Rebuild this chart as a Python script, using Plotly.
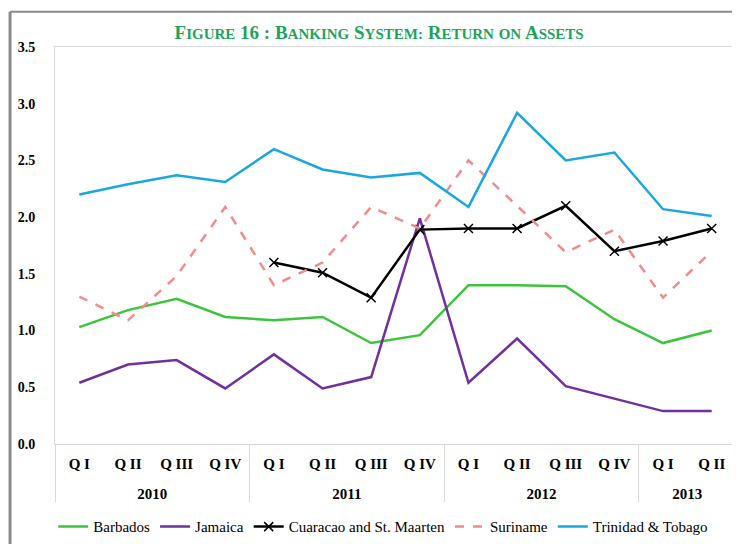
import plotly.graph_objects as go

# Categories
YEARS = ["2010"] * 4 + ["2011"] * 4 + ["2012"] * 4 + ["2013"] * 2
QUARTERS = ["Q I", "Q II", "Q III", "Q IV"] * 3 + ["Q I", "Q II"]

# Return on assets (%)
barbados = [1.03, 1.18, 1.28, 1.12, 1.09, 1.12, 0.89, 0.96, 1.40, 1.40, 1.39, 1.10, 0.89, 1.00]
jamaica = [0.54, 0.70, 0.74, 0.49, 0.79, 0.49, 0.59, 1.99, 0.54, 0.93, 0.51, 0.40, 0.29, 0.29]
curacao = [None, None, None, None, 1.60, 1.51, 1.29, 1.89, 1.90, 1.90, 2.10, 1.70, 1.79, 1.90]
suriname = [1.30, 1.09, 1.48, 2.09, 1.40, 1.60, 2.09, 1.90, 2.50, 2.10, 1.69, 1.89, 1.29, 1.70]
trinidad = [2.20, 2.29, 2.37, 2.31, 2.60, 2.42, 2.35, 2.39, 2.09, 2.92, 2.50, 2.57, 2.07, 2.01]

Y_TICKS = [0.0, 0.5, 1.0, 1.5, 2.0, 2.5, 3.0, 3.5]

SERIF = "Palatino Linotype, Book Antiqua, Liberation Serif, serif"

COLOURS = {
    "barbados": "#3cc43c",
    "jamaica": "#7030a0",
    "curacao": "#000000",
    "suriname": "#f28b8b",
    "trinidad": "#1aa7e0",
}

# a tiny blank second line under each quarter pushes the year row further down
SPACER = "<br><span style='font-size:5px'>\u00a0</span>"
x = [YEARS, [q + SPACER for q in QUARTERS]]

fig = go.Figure()
fig.add_trace(go.Scatter(x=x, y=barbados, mode="lines", name="Barbados",
                         line=dict(color=COLOURS["barbados"], width=2.5)))
fig.add_trace(go.Scatter(x=x, y=jamaica, mode="lines", name="Jamaica",
                         line=dict(color=COLOURS["jamaica"], width=2.5)))
fig.add_trace(go.Scatter(x=x, y=curacao, mode="lines+markers", name="Cuaracao and St. Maarten",
                         line=dict(color=COLOURS["curacao"], width=2.5),
                         marker=dict(symbol="x-thin-open", size=9,
                                     line=dict(color=COLOURS["curacao"], width=1.5))))
fig.add_trace(go.Scatter(x=x, y=suriname, mode="lines", name="Suriname",
                         line=dict(color=COLOURS["suriname"], width=2.5, dash="dash")))
fig.add_trace(go.Scatter(x=x, y=trinidad, mode="lines", name="Trinidad & Tobago",
                         line=dict(color=COLOURS["trinidad"], width=2.5)))


def small_caps(text, small=15):
    out = []
    for word in text.split(" "):
        if word[:1].isalpha() and word[:1].isupper():
            out.append(word[0] + f"<span style='font-size:{small}px'>{word[1:].upper()}</span>")
        elif word.islower():
            out.append(f"<span style='font-size:{small}px'>{word.upper()}</span>")
        else:
            out.append(word)
    return " ".join(out)


title_text = small_caps("Figure 16 : Banking System: Return on Assets")

# page body keeps its default 8px margin, so the figure is 8px smaller than the window
fig.update_layout(
    width=732, height=536,
    paper_bgcolor="white", plot_bgcolor="white",
    margin=dict(l=47, r=4, t=39, b=100, autoexpand=False),
    font=dict(family=SERIF, size=14, color="black"),
    title=dict(text=f"<b>{title_text}</b>", x=0.507, xanchor="center",
               y=0.955, yanchor="middle",
               font=dict(family=SERIF, size=19, color="#1fa35c")),
    showlegend=True,
    legend=dict(orientation="h", x=0.482, xanchor="center",
                yref="container", y=0.032, yanchor="middle",
                font=dict(family=SERIF, size=15), itemwidth=30,
                tracegroupgap=0, bgcolor="rgba(0,0,0,0)"),
)

fig.update_xaxes(
    type="multicategory", range=[-0.5, 13.5], automargin=False,
    showline=True, linecolor="#d9d9d9", linewidth=1, mirror=True,
    showgrid=False, ticks="", ticklabelstandoff=6,
    showdividers=True, dividercolor="#d9d9d9", dividerwidth=1,
    tickfont=dict(family=SERIF, size=15, color="black", weight="bold"),
)
fig.update_yaxes(
    range=[0, 3.5], tickvals=Y_TICKS, tickformat=".1f", automargin=False,
    showline=True, linecolor="#d9d9d9", linewidth=1, mirror=True,
    showgrid=False, zeroline=False, ticks="",
    ticklabelstandoff=16,
    tickfont=dict(family=SERIF, size=14, color="black", weight="bold"),
)

# Page frame on the left and top
fig.add_shape(type="line", xref="paper", yref="paper",
              x0=-0.066, x1=-0.066, y0=-0.3, y1=1.089,
              line=dict(color="#8a8a8a", width=3))
fig.add_shape(type="line", xref="paper", yref="paper",
              x0=-0.066, x1=1.02, y0=1.089, y1=1.089,
              line=dict(color="#8a8a8a", width=2))

fig.write_html("out.html")
